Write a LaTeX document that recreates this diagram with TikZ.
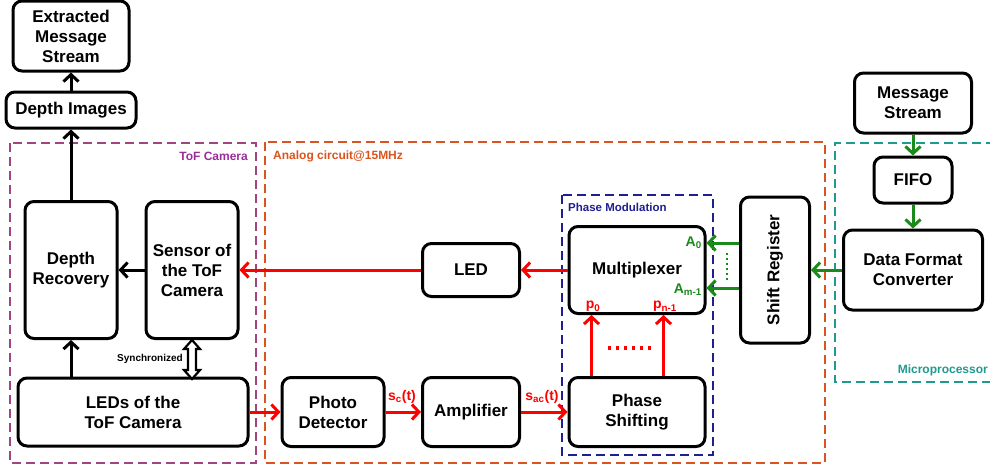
\documentclass[tikz,border=0pt]{standalone}
\usepackage{fontspec}
\setmainfont{Liberation Sans}
\usetikzlibrary{arrows.meta,calc}
\definecolor{tofc}{HTML}{A0457F}
\definecolor{toft}{HTML}{9B2D9B}
\definecolor{anac}{HTML}{D9541E}
\definecolor{phc}{HTML}{1F1F8F}
\definecolor{mpc}{HTML}{1F9A8F}
\definecolor{grn}{HTML}{1A8A1A}
\begin{document}
\begin{tikzpicture}[x=1pt,y=-1pt,
  box/.style={draw=black,line width=3pt,rounded corners=9pt,align=center,inner sep=0pt,
    font=\bfseries\fontsize{17}{20}\selectfont},
  grp/.style={line width=1.5pt,dash pattern=on 9pt off 5pt},
  grplab/.style={font=\bfseries\fontsize{12}{14}\selectfont,inner sep=0pt},
  tip/.style={-{Straight Barb[length=7pt,width=15pt]}},
  blk/.style={tip,line width=3pt,black},
  rd/.style={tip,line width=3pt,red},
  gn/.style={tip,line width=3pt,grn},
  sig/.style={font=\bfseries\fontsize{14}{16}\selectfont,inner sep=0pt}
]
\useasboundingbox (0,0) rectangle (990,469);
% groups
\draw[grp,tofc] (10,143) rectangle (256,463);
\node[grplab,toft,anchor=east] (toflab) at (248,156) {ToF Camera};
\draw[grp,anac] (265,142) rectangle (825,463);
\node[grplab,anac,anchor=west] (analab) at (273,156) {Analog circuit@15MHz};
\draw[grp,phc] (562,195) rectangle (713,455);
\node[grplab,phc,anchor=west,font=\bfseries\fontsize{11.5}{13}\selectfont] (phlab) at (568,207) {Phase Modulation};
\draw[grp,mpc] (995,143) -- (835,143) -- (835,382) -- (995,382);
\node[grplab,mpc,anchor=east] (mplab) at (988,370) {Microprocessor};
% nodes
\node[box,minimum width=116pt,minimum height=70pt] (ext) at (71,36) {Extracted\\Message\\Stream};
\node[box,minimum width=130pt,minimum height=36pt] (dimg) at (71,110) {Depth Images};
\node[box,minimum width=92pt,minimum height=137pt] (drec) at (71,270) {Depth\\Recovery};
\node[box,minimum width=92pt,minimum height=137pt] (sens) at (192,270) {Sensor of\\the ToF\\Camera};
\node[box,minimum width=230pt,minimum height=68pt] (leds) at (133,412) {LEDs of the\\ToF Camera};
\node[box,minimum width=97pt,minimum height=53pt] (led) at (471,270) {LED};
\node[box,minimum width=102pt,minimum height=69pt] (pd) at (333,412) {Photo\\Detector};
\node[box,minimum width=97pt,minimum height=69pt] (amp) at (471,412) {Amplifier};
\node[box,minimum width=136pt,minimum height=87pt] (mux) at (637,270) {Multiplexer};
\node[box,minimum width=136pt,minimum height=69pt] (ps) at (637,412) {Phase\\Shifting};
\node[box,minimum width=69pt,minimum height=146pt] (sr) at (775,270) {};
\node[rotate=90,font=\bfseries\fontsize{17}{20}\selectfont] (srt) at (sr.center) {Shift Register};
\node[box,minimum width=139pt,minimum height=80pt] (dfc) at (913,270) {Data Format\\Converter};
\node[box,minimum width=117pt,minimum height=60pt] (msg) at (913,103) {Message\\Stream};
\node[box,minimum width=78pt,minimum height=46pt] (fifo) at (913,180) {FIFO};
% black connectors
\draw[blk] (dimg.north) -- (ext.south);
\draw[blk] (drec.north) -- (dimg.south);
\draw[blk] (drec.south |- leds.north) -- (drec.south);
\draw[blk] (sens.west) -- (drec.east);
% synchronized double arrow
\coordinate (st) at (sens.south);
\draw[line width=2.2pt,fill=white,line join=miter]
  ($(st)+(0,0)$) -- ++(8,9) -- ++(-4,0) -- ++(0,21) -- ++(4,0) -- ++(-8,9)
  -- ++(-8,-9) -- ++(4,0) -- ++(0,-21) -- ++(-4,0) -- cycle;
\node[font=\bfseries\fontsize{10}{12}\selectfont,anchor=east,inner sep=0pt] (synlab) at (183,359) {Synchronized};
% red connectors
\draw[rd] (mux.west) -- (led.east);
\draw[rd] (led.west) -- (sens.east);
\draw[rd] (leds.east) -- (pd.west);
\draw[rd] (pd.east) -- (amp.west);
\draw[rd] (amp.east) -- (ps.west);
\draw[rd] ([xshift=24pt]ps.north west) -- ([xshift=24pt]mux.south west);
\draw[rd] ([xshift=96pt]ps.north west) -- ([xshift=96pt]mux.south west);
\draw[red,line width=3.5pt,dash pattern=on 3pt off 5pt] (608,348) -- (652,348);
\node[sig,red] (sc) at (402,397) {s\textsubscript{c}(t)};
\node[sig,red] (sac) at (542,397) {s\textsubscript{ac}(t)};
\node[sig,red,anchor=south] (p0) at (593,312) {p\textsubscript{0}};
\node[sig,red,anchor=south] (pn) at (665,312) {p\textsubscript{n-1}};
% green connectors
\coordinate (a0) at (0,243);
\coordinate (am) at (0,288);
\draw[gn] (sr.west |- a0) -- (mux.east |- a0);
\draw[gn] (sr.west |- am) -- (mux.east |- am);
\draw[grn,line width=2pt,dash pattern=on 2pt off 3pt] (727,253) -- (727,280);
\node[sig,grn,anchor=east] (a0l) at (702,243) {A\textsubscript{0}};
\node[sig,grn,anchor=east] (aml) at (702,290) {A\textsubscript{m-1}};
\draw[gn] (dfc.west) -- (sr.east);
\draw[gn] (msg.south) -- (fifo.north);
\draw[gn] (fifo.south) -- (dfc.north);
\end{tikzpicture}
\end{document}
